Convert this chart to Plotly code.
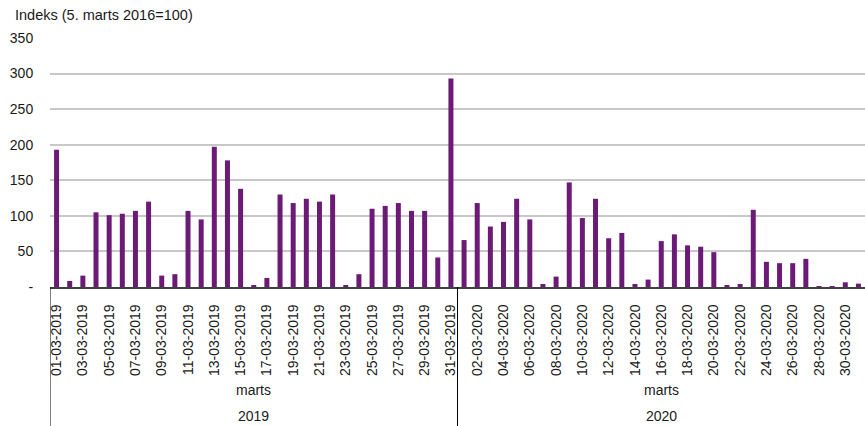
import plotly.graph_objects as go

dates_2019 = [f"{d:02d}-03-2019" for d in range(1, 32)]
dates_2020 = [f"{d:02d}-03-2020" for d in range(1, 32)]
categories = dates_2019 + dates_2020

values_2019 = [193, 8.5, 16, 105, 101, 103, 107, 120, 16, 18, 107, 95, 197, 178, 138, 2.4, 12.7,
               130, 118, 124, 120, 130, 2.4, 18, 110, 114, 118, 107, 107, 41.5, 293]
values_2020 = [66, 118, 85, 91.5, 124, 95, 4.2, 14.6, 147, 97, 124, 68.5, 76, 4.2, 10.4, 64.5,
               74, 58.5, 56.6, 49, 2.4, 4.2, 108.5, 35.4, 33.5, 33.5, 39.6, 1, 1, 6.6, 4.7]
values = values_2019 + values_2020

tick_labels = dates_2019[0::2] + dates_2020[1::2]
y_ticks = [0, 50, 100, 150, 200, 250, 300, 350]
y_tick_text = ["-", "50", "100", "150", "200", "250", "300", "350"]

month_label = "marts"
year_labels = ["2019", "2020"]

font_family = "Liberation Sans, Arial, sans-serif"
text_color = "#1a1a1a"

fig = go.Figure()
fig.add_trace(go.Bar(x=categories, y=values, marker_color="#6B1A76",
                     marker_line_width=0, width=0.38))

W, H = 865, 426
ml, mr, mt, mb = 50, 0, 38, 139
ph = H - mt - mb

fig.update_layout(
    width=W, height=H,
    margin=dict(l=ml, r=mr, t=mt, b=mb),
    plot_bgcolor="white", paper_bgcolor="white",
    showlegend=False,
    font=dict(family=font_family, size=14, color=text_color),
    title=dict(text="Indeks (5. marts 2016=100)", x=15 / W, y=1 - 15 / H,
               xanchor="left", yanchor="middle", xref="container", yref="container",
               font=dict(size=14.5, color=text_color, family=font_family)),
    xaxis=dict(type="category", categoryorder="array", categoryarray=categories,
               tickmode="array", tickvals=tick_labels, ticktext=tick_labels,
               tickangle=-90, showgrid=False, showline=True, linecolor="#404040",
               linewidth=1.5, ticks="outside", ticklen=10, tickcolor="rgba(0,0,0,0)",
               range=[-0.5, len(categories) - 0.5],
               tickfont=dict(size=14, color=text_color)),
    yaxis=dict(range=[0, 350], tickmode="array", tickvals=y_ticks, ticktext=y_tick_text,
               showgrid=True, gridcolor="#C8C8C8", gridwidth=1.5, zeroline=False,
               showline=False, ticks="outside", ticklen=13, tickcolor="rgba(0,0,0,0)",
               tickfont=dict(size=14, color=text_color)),
)

base_px = mt + ph
bottom = -(H - base_px) / ph

# group dividers
for xpos in [-0.5, 30.5]:
    fig.add_shape(type="line", xref="x", yref="paper", x0=xpos, x1=xpos,
                  y0=0, y1=bottom, line=dict(color="black", width=1))

for i, yr in enumerate(year_labels):
    center = 15 + 31 * i
    fig.add_annotation(x=center, xref="x", y=-(390 - base_px) / ph, yref="paper",
                       text=month_label, showarrow=False, xanchor="center", yanchor="middle",
                       font=dict(size=14, color=text_color))
    fig.add_annotation(x=center, xref="x", y=-(416 - base_px) / ph, yref="paper",
                       text=yr, showarrow=False, xanchor="center", yanchor="middle",
                       font=dict(size=14, color=text_color))

fig.write_html("out.html", config={"displayModeBar": False},
               post_script="document.body.style.margin='0';document.body.style.overflow='hidden';")
